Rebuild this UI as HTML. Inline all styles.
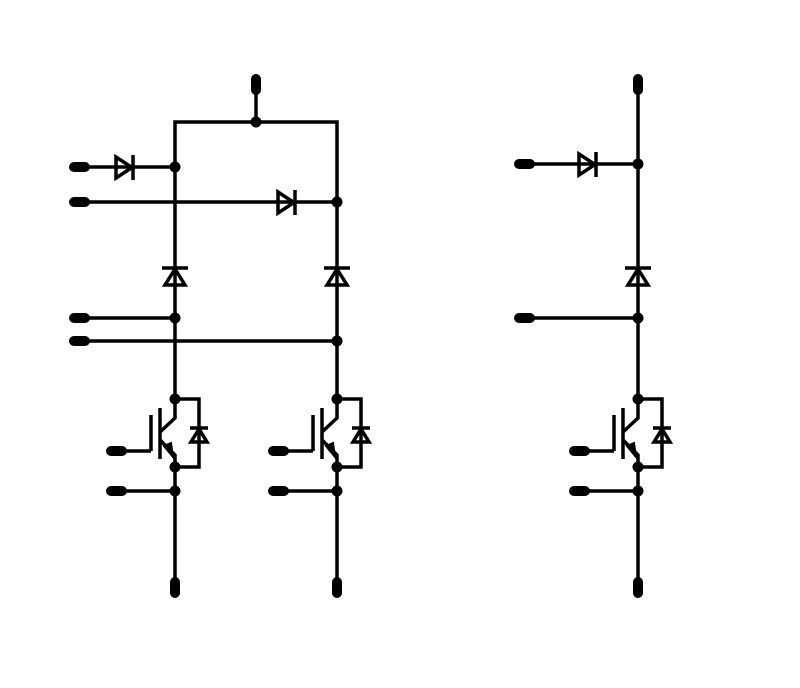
<!DOCTYPE html>
<html><head><style>html,body{margin:0;padding:0;background:#fff;}svg{display:block}</style></head>
<body>
<svg width="800" height="688" viewBox="0 0 800 688" xmlns="http://www.w3.org/2000/svg">
<defs>
<g id="igbt" stroke="#000" stroke-width="3.5" fill="none">
  <path d="M0 399 V418 L-15 432"/>
  <path d="M-15 440 L0 455 V491"/>
  <polygon points="-2,457 -11,446 -4,443" fill="#000" stroke-width="2"/>
  <line x1="-15" y1="408" x2="-15" y2="459"/>
  <line x1="-24" y1="415" x2="-24" y2="451"/>
  <line x1="-24" y1="451" x2="-60" y2="451"/>
  <line x1="-64" y1="451" x2="-53" y2="451" stroke-width="10" stroke-linecap="round"/>
  <path d="M0 399 H24 V467 H0"/>
  <line x1="15" y1="428" x2="33" y2="428"/>
  <polygon points="24,429 16,442 32,442"/>
  <circle cx="0" cy="399" r="5.5" fill="#000" stroke="none"/>
  <circle cx="0" cy="467" r="5.5" fill="#000" stroke="none"/>
  <circle cx="0" cy="491" r="5.5" fill="#000" stroke="none"/>
  <line x1="0" y1="491" x2="-60" y2="491"/>
  <line x1="-64" y1="491" x2="-53" y2="491" stroke-width="10" stroke-linecap="round"/>
  <line x1="0" y1="491" x2="0" y2="585"/>
  <line x1="0" y1="582" x2="0" y2="593" stroke-width="10" stroke-linecap="round"/>
</g>
<g id="vdiode" stroke="#000" stroke-width="3.5" fill="none">
  <line x1="-13" y1="268" x2="13" y2="268"/>
  <polygon points="0,269 -10,285 10,285"/>
</g>
</defs>
<g stroke="#000" stroke-width="3.5" fill="none">
  <line x1="256" y1="79" x2="256" y2="90" stroke-width="10" stroke-linecap="round"/>
  <line x1="256" y1="88" x2="256" y2="122"/>
  <path d="M175 399 V122 H337 V399"/>
  <line x1="80" y1="167" x2="175" y2="167"/>
  <line x1="74" y1="167" x2="85" y2="167" stroke-width="10" stroke-linecap="round"/>
  <polygon points="116,157 116,178 132,167.5"/>
  <line x1="133" y1="155" x2="133" y2="180"/>
  <line x1="80" y1="202" x2="337" y2="202"/>
  <line x1="74" y1="202" x2="85" y2="202" stroke-width="10" stroke-linecap="round"/>
  <polygon points="278,192 278,213 294,202.5"/>
  <line x1="295" y1="190" x2="295" y2="215"/>
  <line x1="80" y1="318" x2="175" y2="318"/>
  <line x1="74" y1="318" x2="85" y2="318" stroke-width="10" stroke-linecap="round"/>
  <line x1="80" y1="341" x2="337" y2="341"/>
  <line x1="74" y1="341" x2="85" y2="341" stroke-width="10" stroke-linecap="round"/>
  <line x1="638" y1="79" x2="638" y2="90" stroke-width="10" stroke-linecap="round"/>
  <line x1="638" y1="88" x2="638" y2="399"/>
  <line x1="525" y1="164" x2="638" y2="164"/>
  <line x1="519" y1="164" x2="530" y2="164" stroke-width="10" stroke-linecap="round"/>
  <polygon points="579,154 579,175 595,164.5"/>
  <line x1="596" y1="152" x2="596" y2="177"/>
  <line x1="525" y1="318" x2="638" y2="318"/>
  <line x1="519" y1="318" x2="530" y2="318" stroke-width="10" stroke-linecap="round"/>
</g>
<g fill="#000">
  <circle cx="256" cy="122" r="5.5"/>
  <circle cx="175" cy="167" r="5.5"/>
  <circle cx="337" cy="202" r="5.5"/>
  <circle cx="175" cy="318" r="5.5"/>
  <circle cx="337" cy="341" r="5.5"/>
  <circle cx="638" cy="164" r="5.5"/>
  <circle cx="638" cy="318" r="5.5"/>
</g>
<use href="#vdiode" x="175"/>
<use href="#vdiode" x="337"/>
<use href="#vdiode" x="638"/>
<use href="#igbt" x="175"/>
<use href="#igbt" x="337"/>
<use href="#igbt" x="638"/>
</svg>
</body></html>
